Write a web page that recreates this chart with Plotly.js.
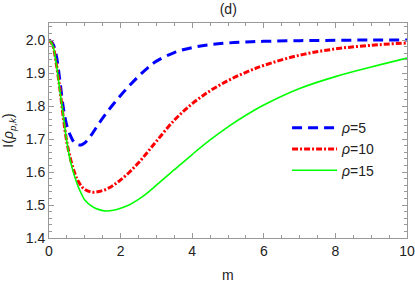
<!DOCTYPE html>
<html>
<head>
<meta charset="utf-8">
<script src="https://cdn.plot.ly/plotly-3.0.1.min.js"></script>
<style>html,body{margin:0;padding:0;background:#fff;}#chart{width:415px;height:284px;}</style>
</head>
<body>
<div id="chart"></div>
<script>
var m = [0, 0.1, 0.2, 0.3, 0.4, 0.5, 0.6, 0.7, 0.8, 0.9, 1.0, 1.2, 1.4, 1.6, 1.8, 2.0, 2.25, 2.5, 2.75, 3.0, 3.5, 4.0, 4.5, 5.0, 5.5, 6.0, 7.0, 8.0, 9.0, 10.0];
var rho5 = [2.0, 1.99, 1.955, 1.88, 1.795, 1.74, 1.71, 1.69, 1.683, 1.682, 1.688, 1.715, 1.748, 1.778, 1.806, 1.832, 1.862, 1.89, 1.915, 1.936, 1.962, 1.977, 1.986, 1.991, 1.994, 1.996, 1.998, 1.999, 2.0, 2.0];
var rho10 = [2.0, 1.985, 1.93, 1.855, 1.765, 1.69, 1.64, 1.602, 1.575, 1.558, 1.547, 1.539, 1.541, 1.548, 1.56, 1.576, 1.6, 1.628, 1.66, 1.693, 1.757, 1.807, 1.846, 1.877, 1.902, 1.923, 1.954, 1.973, 1.984, 1.991];
var rho15 = [2.0, 1.985, 1.93, 1.85, 1.77, 1.69, 1.632, 1.592, 1.56, 1.535, 1.515, 1.496, 1.486, 1.482, 1.484, 1.49, 1.501, 1.517, 1.537, 1.56, 1.607, 1.653, 1.697, 1.737, 1.772, 1.803, 1.853, 1.889, 1.918, 1.945];
var names = ['<i>ρ</i>=5', '<i>ρ</i>=10', '<i>ρ</i>=15'];
var xTicks = [0, 2, 4, 6, 8, 10];
var yTicks = [1.4, 1.5, 1.6, 1.7, 1.8, 1.9, 2.0];
var xTitle = 'm';

var traces = [
  {x: m, y: rho5, name: names[0], legendgroup: 'a', mode: 'lines',
   line: {color: 'rgb(0,0,255)', width: 3, dash: '10px,6px', shape: 'spline', smoothing: 1}},
  {x: m, y: rho10, name: names[1], legendgroup: 'b', mode: 'lines',
   line: {color: 'rgb(255,0,0)', width: 3, dash: '6px,2px,2px,2px', shape: 'spline', smoothing: 1}},
  {x: m, y: rho15, name: names[2], legendgroup: 'c', mode: 'lines',
   line: {color: 'rgb(0,255,0)', width: 1.6, shape: 'spline', smoothing: 1}}
];

var FONT = 'Liberation Sans, Arial, sans-serif';
var axisCommon = {
  showline: true, linecolor: '#999', linewidth: 1, mirror: 'allticks',
  ticks: 'inside', ticklen: 5, tickcolor: '#999', tickwidth: 1,
  showgrid: false, zeroline: false,
  tickfont: {family: FONT, size: 14, color: '#222'}
};

var layout = {
  width: 415, height: 284,
  margin: {l: 49, r: 8, t: 23, b: 46},
  paper_bgcolor: '#fff', plot_bgcolor: '#fff',
  font: {family: FONT, size: 14, color: '#222'},
  title: {text: '(d)', x: 0.55, xanchor: 'center', y: 0.968, yanchor: 'middle', font: {size: 14, color: '#222'}},
  xaxis: Object.assign({}, axisCommon, {
    range: [0, 10], tickvals: xTicks, ticktext: xTicks.map(String),
    minor: {dtick: 0.5, ticklen: 3, tickcolor: '#999', ticks: 'inside'}
  }),
  yaxis: Object.assign({}, axisCommon, {
    range: [1.4, 2.0515], tickvals: yTicks, ticktext: yTicks.map(function(v){return v.toFixed(1);}),
    minor: {dtick: 0.02, ticklen: 3, tickcolor: '#999', ticks: 'inside'},
    title: {text: 'I(<i>ρ</i><sub><i>p,k</i></sub>)', standoff: 8, font: {size: 14, color: '#222'}}
  }),
  annotations: [{text: xTitle, xref: 'paper', yref: 'paper', x: 0.5, y: -0.172,
    xanchor: 'center', yanchor: 'middle', showarrow: false, font: {size: 14, color: '#222'}}],
  legend: {x: 0.665, xanchor: 'left', y: 0.585, yanchor: 'top', bgcolor: 'rgba(0,0,0,0)',
    tracegroupgap: 0, traceorder: 'grouped', itemwidth: 45, font: {size: 14, color: '#222'}},
  showlegend: true
};

Plotly.newPlot('chart', traces, layout, {displayModeBar: false, staticPlot: true});
</script>
</body>
</html>
